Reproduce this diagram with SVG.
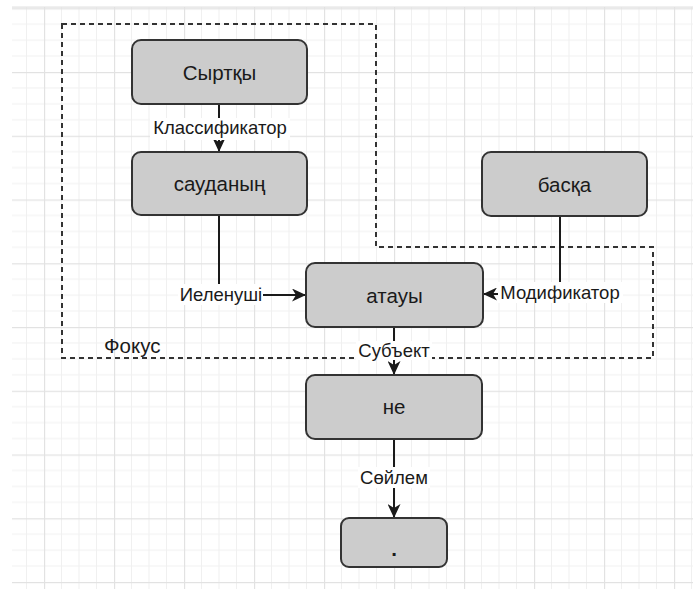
<svg xmlns="http://www.w3.org/2000/svg" width="693" height="589" viewBox="0 0 693 589">
<style>
  .node rect { fill: #cccccc; stroke: #333333; stroke-width: 2; }
  .node text, .lbl { font-family: "Liberation Sans", Arial, sans-serif; font-size: 18.5px; fill: #1a1a1a; text-anchor: middle; }
  .node text, .big { font-size: 20.5px; }
  .edge { fill: none; stroke: #1a1a1a; stroke-width: 2; }
  .arr { marker-end: url(#ah); }
  .lblbg { fill: #ffffff; }
  .focus { fill: none; stroke: #333333; stroke-width: 2; stroke-dasharray: 5 4; }
</style>
<defs>
  <pattern id="grid" patternUnits="userSpaceOnUse" x="44" y="72" width="70" height="63.75">
    <rect x="17" y="0" width="1" height="63.75" fill="#f0f0f0"/>
    <rect x="34.5" y="0" width="1" height="63.75" fill="#f0f0f0"/>
    <rect x="52" y="0" width="1" height="63.75" fill="#f0f0f0"/>
    <rect x="0" y="15.4" width="70" height="1" fill="#f0f0f0"/>
    <rect x="0" y="31.4" width="70" height="1" fill="#f0f0f0"/>
    <rect x="0" y="47.3" width="70" height="1" fill="#f0f0f0"/>
    <rect x="0" y="0" width="1.2" height="63.75" fill="#e2e2e2"/>
    <rect x="0" y="0" width="70" height="1.2" fill="#e2e2e2"/>
  </pattern>
  <marker id="ah" markerUnits="userSpaceOnUse" markerWidth="15" markerHeight="13" refX="14" refY="6.5" orient="auto">
    <path d="M0,0 L14,6.5 L0,13 L4,6.5 z" fill="#1a1a1a"/>
  </marker>
</defs>
<rect x="0" y="0" width="693" height="589" fill="#ffffff"/>
<rect x="12" y="7" width="681" height="582" fill="url(#grid)"/>
<rect x="12" y="6.5" width="681" height="1.2" fill="#e2e2e2"/>

<g id="focus">
  <path class="focus" d="M62,24 H376 V247 H653 V358 H62 Z"/>
  <text class="lbl big" x="104" y="353" style="text-anchor:start">Фокус</text>
</g>

<g id="connectors">
  <path class="edge arr" d="M219,104 V152"/>
  <path class="edge arr" d="M219,215 V295 H306"/>
  <path class="edge arr" d="M560,216 V294 H483"/>
  <path class="edge arr" d="M394,327 V375"/>
  <path class="edge arr" d="M394,439 V518"/>
  <rect class="lblbg" x="150" y="118" width="140" height="22"/>
  <text class="lbl" x="220" y="134">Классификатор</text>
  <rect class="lblbg" x="178" y="284" width="85" height="21"/>
  <text class="lbl" x="221" y="301">Иеленуші</text>
  <rect class="lblbg" x="498" y="282" width="125" height="21"/>
  <text class="lbl" x="560" y="299">Модификатор</text>
  <rect class="lblbg" x="356" y="341" width="76" height="19"/>
  <text class="lbl" x="394" y="357">Субъект</text>
  <rect class="lblbg" x="358" y="467" width="72" height="21"/>
  <text class="lbl" x="394" y="484">Сөйлем</text>
</g>

<g id="node-syrtky" class="node">
  <rect x="132" y="40" width="175" height="64" rx="9"/>
  <text x="219.5" y="79.5">Сыртқы</text>
</g>
<g id="node-saudanyn" class="node">
  <rect x="132" y="152" width="175" height="63" rx="9"/>
  <text x="219.5" y="190.5">сауданың</text>
</g>
<g id="node-baska" class="node">
  <rect x="482" y="152" width="165" height="64" rx="9"/>
  <text x="564.5" y="191.5">басқа</text>
</g>
<g id="node-atauy" class="node">
  <rect x="306" y="263" width="177" height="64" rx="9"/>
  <text x="394.5" y="302.5">атауы</text>
</g>
<g id="node-ne" class="node">
  <rect x="306" y="375" width="176" height="64" rx="9"/>
  <text x="394" y="413.5">не</text>
</g>
<g id="node-dot" class="node">
  <rect x="341" y="518" width="106" height="49" rx="8"/>
  <text x="394" y="556" style="font-weight:bold">.</text>
</g>
</svg>
